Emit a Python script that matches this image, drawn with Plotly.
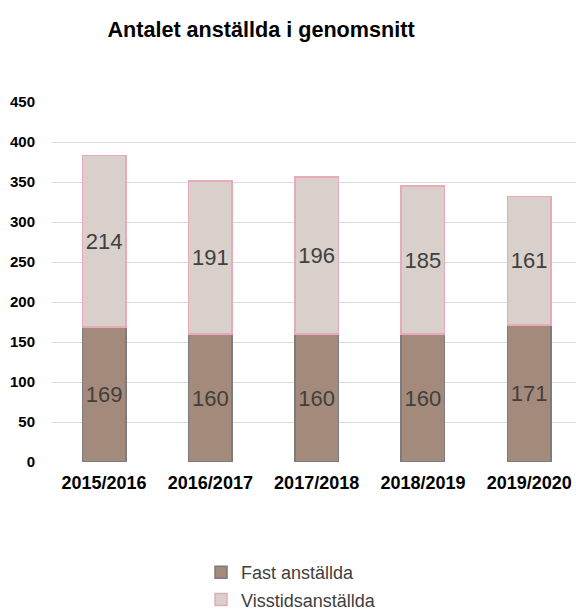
import plotly.graph_objects as go

categories = ["2015/2016", "2016/2017", "2017/2018", "2018/2019", "2019/2020"]
fast = [169, 160, 160, 160, 171]
visstid = [214, 191, 196, 185, 161]
y_ticks = [0, 50, 100, 150, 200, 250, 300, 350, 400, 450]

FONT = "Liberation Sans, Arial, sans-serif"

# figure placed at the page origin (body margin removed); plot area x 52..576, y 102..462
W, H = 576, 624
PL, PR, PT, PB = 52, 576, 102, 462

fig = go.Figure()
fig.add_trace(go.Bar(
    x=categories, y=fast, name="Fast anställda", legendgroup="a",
    marker=dict(color="#a48a7b", line=dict(color="#7f7a7c", width=1.5)),
    text=fast, textposition="inside", insidetextanchor="middle",
    textfont=dict(family=FONT, size=22, color="#404040"),
    textangle=0, constraintext="none",
))
fig.add_trace(go.Bar(
    x=categories, y=visstid, name="Visstidsanställda", legendgroup="b",
    marker=dict(color="#d9cfcb", line=dict(color="#e8aabb", width=1.5)),
    text=visstid, textposition="inside", insidetextanchor="middle",
    textfont=dict(family=FONT, size=22, color="#404040"),
    textangle=0, constraintext="none",
))

fig.update_layout(
    barmode="stack",
    bargap=0.59,
    width=W, height=H,
    paper_bgcolor="white", plot_bgcolor="white",
    margin=dict(l=PL, r=W - PR, t=PT, b=H - PB),
    font=dict(family=FONT, color="#000000"),
    title=dict(text="<b>Antalet anställda i genomsnitt</b>",
               x=261/W, xanchor="center", xref="container",
               y=1-29.5/H, yanchor="middle", yref="container",
               font=dict(family=FONT, size=21.6, color="#000000")),
    showlegend=True,
    legend=dict(orientation="v", traceorder="grouped",
                x=(201-PL)/(PR-PL), xanchor="left", xref="paper",
                y=(PB-554)/(PB-PT), yanchor="top", yref="paper",
                font=dict(family=FONT, size=18, color="#404040"),
                itemwidth=30, tracegroupgap=1, bgcolor="rgba(0,0,0,0)"),
    uniformtext=dict(mode=False),
)
fig.update_xaxes(
    type="category", range=[-0.49, 4.44],
    showgrid=False, showline=False, zeroline=False,
    tickangle=0,
    tickfont=dict(family=FONT, size=18, color="#000000", weight="bold"),
    ticklabelstandoff=8,
)
fig.update_yaxes(
    range=[0, 450], tickvals=y_ticks,
    showgrid=True, gridcolor="#d9d9d9", gridwidth=1,
    zeroline=False, showline=False,
    tickfont=dict(family=FONT, size=15, color="#000000", weight="bold"),
    ticklabelstandoff=16,
)

fig.write_html(
    "out.html",
    config={"displayModeBar": False},
    post_script="document.body.style.margin='0';document.body.style.overflow='hidden';",
)
